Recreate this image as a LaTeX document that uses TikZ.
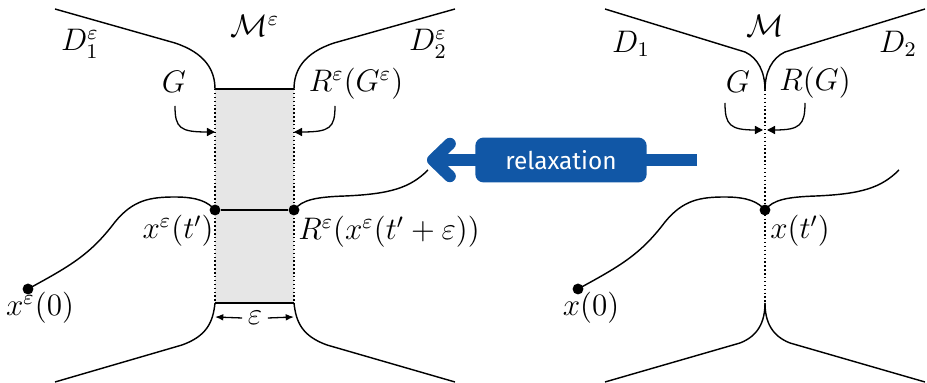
\documentclass[tikz,border=0pt]{standalone}
\usepackage{fontspec}
\newfontfamily\relaxfont{Fira Sans}
\usetikzlibrary{arrows.meta}
\definecolor{relaxblue}{RGB}{17,87,166}
\definecolor{boxgray}{RGB}{230,230,230}
\begin{document}
\begin{tikzpicture}[x=0.385pt,y=-0.385pt,
  bd/.style={line width=0.55pt},
  dotl/.style={line width=0.45pt, dash pattern=on 0.55pt off 0.95pt},
  pt/.style={circle, fill, inner sep=0pt, minimum size=4.2pt},
  harr/.style={line width=0.5pt, -{Triangle[length=3.1pt,width=3.1pt]}},
  earr/.style={line width=0.5pt, -{Latex[length=3.2pt,width=2.6pt]}},
  lbl/.style={inner sep=0pt, font=\large},
  relaxbox/.style={rounded corners=3.2pt, fill=relaxblue, text=white, minimum width=66pt, minimum height=17.3pt, inner sep=0pt, font=\relaxfont\fontsize{9.4}{11}\selectfont},
  relaxarr/.style={draw=relaxblue, line width=4.6pt, -{Straight Barb[round,length=6.5pt,width=12.5pt]}}
]
\useasboundingbox (0,0) rectangle (927,383);

%%%%% LEFT PICTURE
\coordinate (A) at (215,89);
\coordinate (B) at (294,89);
\coordinate (C) at (294,303);
\coordinate (Dd) at (215,303);
\fill[boxgray] (A) rectangle (C);
\draw[bd] (A) -- (B);
\draw[bd] (Dd) -- (C);
\draw[dotl] (A) -- (Dd);
\draw[dotl] (B) -- (C);

% boundaries
\coordinate (tl0) at (55,9);
\coordinate (tr0) at (455,9);
\coordinate (bl0) at (55,382);
\coordinate (br0) at (455,382);
\draw[bd] (tl0) -- (175,43) .. controls (205,53) and (215,70) .. (A);
\draw[bd] (B) .. controls (294,70) and (304,53) .. (334,43) -- (tr0);
\draw[bd] (Dd) .. controls (213,322) and (207,336) .. (182,345) -- (bl0);
\draw[bd] (C) .. controls (296,322) and (302,336) .. (327,345) -- (br0);

% trajectory
\node[pt] (x0e) at (28,289) {};
\node[pt] (xte) at (215,210) {};
\node[pt] (Rxe) at (294,210) {};
\coordinate (xend) at (428,170);
\draw[bd] (x0e.center) .. controls (70,266) and (90,255) .. (115,222) .. controls (133,200) and (150,197) .. (175,197) .. controls (198,197) and (208,202) .. (xte.center);
\draw[bd] (xte) -- (Rxe);
\draw[bd] (Rxe.center) .. controls (302,200) and (315,197) .. (345,196) .. controls (390,194) and (410,188) .. (xend);

% labels
\node[lbl] (D1e) at (80,44) {$D_1^\varepsilon$};
\node[lbl] (Me) at (255,26) {$\mathcal{M}^\varepsilon$};
\node[lbl] (D2e) at (428,44) {$D_2^\varepsilon$};
\node[lbl] (Ge) at (174,82) {$G$};
\node[lbl] (RGe) at (356,84) {$R^\varepsilon(G^\varepsilon)$};
\node[lbl] (lxte) at (178,231) {$x^\varepsilon(t')$};
\node[lbl] (lRxe) at (389,232) {$R^\varepsilon(x^\varepsilon(t'+\varepsilon))$};
\node[lbl] (lx0e) at (40,308) {$x^\varepsilon(0)$};
\node[lbl, inner xsep=2pt] (eps) at (255,318) {$\varepsilon$};

% arrows
\coordinate (Gs) at (175,106);
\coordinate (Gt) at (215,132);
\coordinate (Rs) at (335,106);
\coordinate (Rt) at (294,132);
\draw[harr] (Gs) .. controls (175,128) and (180,132) .. (Gt);
\draw[harr] (Rs) .. controls (335,128) and (330,132) .. (Rt);
\coordinate (el) at (215,317);
\coordinate (er) at (294,317);
\draw[earr] (eps.west) -- (el);
\draw[earr] (eps.east) -- (er);

%%%%% RIGHT PICTURE
\coordinate (T) at (765,90);
\coordinate (Bt) at (765,303);
\draw[dotl] (T) -- (Bt);
\coordinate (tl1) at (605,9);
\coordinate (tr1) at (925,9);
\coordinate (bl1) at (605,382);
\coordinate (br1) at (925,382);
\draw[bd] (tl1) -- (745,52) .. controls (758,58) and (765,72) .. (T);
\draw[bd] (T) .. controls (765,72) and (772,58) .. (785,52) -- (tr1);
\draw[bd] (Bt) .. controls (765,322) and (758,336) .. (740,343) -- (bl1);
\draw[bd] (Bt) .. controls (765,322) and (772,336) .. (790,343) -- (br1);

\node[pt] (x0) at (578,289) {};
\node[pt] (xt) at (765,210) {};
\coordinate (xend1) at (899,170);
\draw[bd] (x0.center) .. controls (620,266) and (640,255) .. (665,222) .. controls (683,200) and (700,197) .. (725,197) .. controls (748,197) and (758,202) .. (xt.center);
\draw[bd] (xt.center) .. controls (773,200) and (786,197) .. (816,196) .. controls (861,194) and (881,188) .. (xend1);

\node[lbl] (D1) at (631,44) {$D_1$};
\node[lbl] (M) at (765,26) {$\mathcal{M}$};
\node[lbl] (D2) at (898,44) {$D_2$};
\node[lbl] (G) at (738,82) {$G$};
\node[lbl] (RG) at (815,83) {$R(G)$};
\node[lbl] (lxt) at (800,231) {$x(t')$};
\node[lbl] (lx0) at (591,308) {$x(0)$};

\coordinate (Gs1) at (725,103);
\coordinate (Gt1) at (763,130);
\coordinate (Rs1) at (805,103);
\coordinate (Rt1) at (767,130);
\draw[harr] (Gs1) .. controls (725,125) and (730,130) .. (Gt1);
\draw[harr] (Rs1) .. controls (805,125) and (800,130) .. (Rt1);

%%%%% RELAXATION ARROW
\coordinate (rs) at (697,160);
\coordinate (rt) at (427,160);
\draw[relaxarr] (rs) -- (rt);
\node[relaxbox] (relax) at (561,160) {relaxation};
\end{tikzpicture}
\end{document}
